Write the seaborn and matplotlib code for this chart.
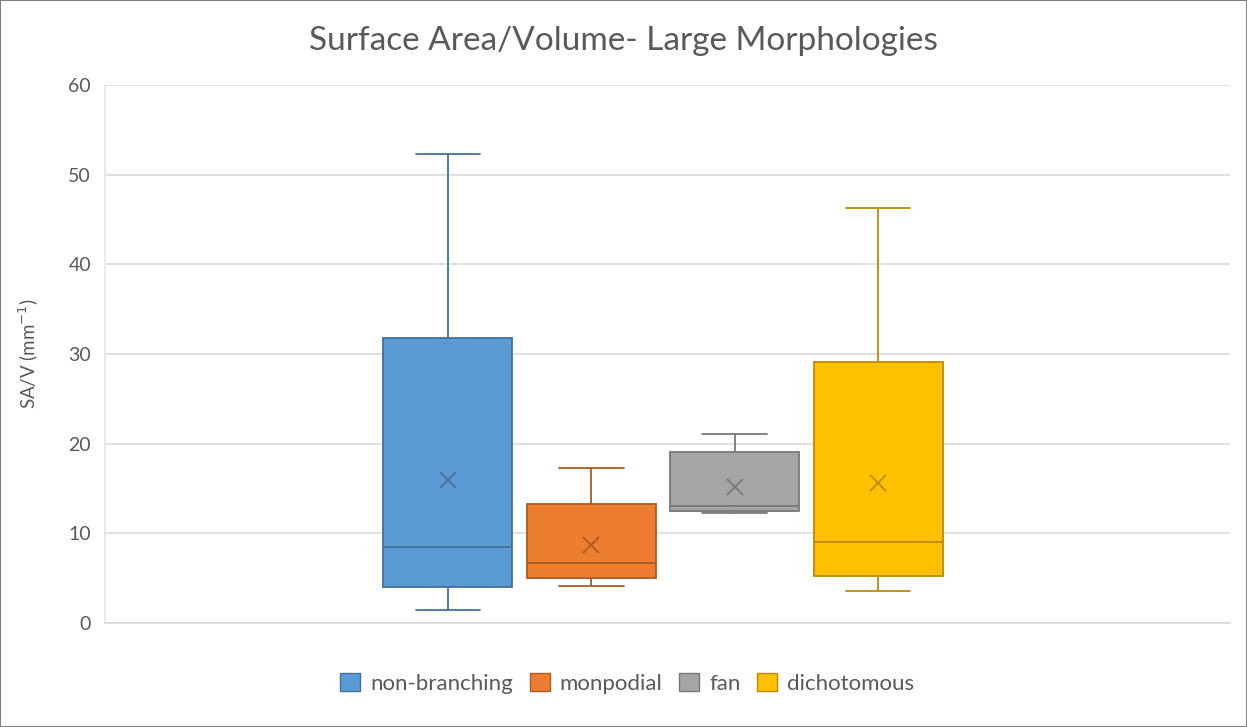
import numpy as np
import pandas as pd
import matplotlib.pyplot as plt
from matplotlib.patches import Patch, Rectangle
import seaborn as sns

# five-number summaries (min, q1, median, q3, max) + mean
series = ["non-branching", "monpodial", "fan", "dichotomous"]
mins = [1.5, 4.1, 12.3, 3.6]
q1s = [4.0, 5.0, 12.5, 5.2]
medians = [8.5, 6.7, 13.0, 9.0]
q3s = [31.8, 13.3, 19.1, 29.1]
maxs = [52.3, 17.3, 21.1, 46.3]
means = [16.0, 8.7, 15.2, 15.6]

fills = ["#5B9BD5", "#ED7D31", "#A5A5A5", "#FFC000"]
edges = ["#41719C", "#AE5A21", "#787878", "#BC8C00"]

# five points per group give exactly these quartiles with linear percentiles
rows = []
for name, a, b, c, d, e in zip(series, mins, q1s, medians, q3s, maxs):
    for v in (a, b, c, d, e):
        rows.append({"group": "all", "series": name, "value": v})
df = pd.DataFrame(rows)
mean_df = pd.DataFrame({"group": "all", "series": series, "mean": means})

sns.set_style("white")
plt.rcParams["font.family"] = ["Lato", "DejaVu Sans"]

fig = plt.figure(figsize=(12.47, 7.27), dpi=100)
ax = fig.add_axes([0.0842, 0.1431, 0.9022, 0.74])

width = 0.51
pal = dict(zip(series, fills))
for i, name in enumerate(series):
    sns.boxplot(data=df[df["series"] == name], x="group", y="value",
                hue="series", hue_order=series, palette=pal, saturation=1,
                dodge=True, width=width, gap=0.1, whis=(0, 100),
                linecolor=edges[i], linewidth=1.3, legend=False, ax=ax, zorder=3)

n = len(series)
sns.pointplot(data=mean_df, x="group", y="mean", hue="series", hue_order=series,
              palette=dict(zip(series, edges)), dodge=width * (n - 1) / n,
              markers="x", linestyles="none", errorbar=None, legend=False,
              markersize=12, markeredgewidth=1.3, ax=ax, zorder=4)

ax.set_xlim(-0.496, 0.504)
ax.set_ylim(0, 60)
ax.set_yticks(range(0, 61, 10))
ax.set_xticks([])
ax.set_xlabel("")
ax.set_ylabel("SA/V (mm$^{-1}$)", fontsize=13.5, color="#595959", labelpad=20)
ax.tick_params(axis="y", labelsize=14, labelcolor="#595959", length=0, pad=10)
ax.grid(axis="y", color="#D9D9D9", linewidth=1.1)
ax.set_axisbelow(True)
for side in ["top", "right"]:
    ax.spines[side].set_visible(False)
ax.spines["left"].set_color("#E3E3E3")
ax.spines["bottom"].set_color("#D9D9D9")
ax.spines["left"].set_linewidth(1.1)
ax.spines["bottom"].set_linewidth(1.1)

fig.text(0.5, 0.943, "Surface Area/Volume- Large Morphologies", fontsize=24,
         color="#595959", ha="center", va="center")

handles = [Patch(facecolor=f, edgecolor=e, linewidth=1) for f, e in zip(fills, edges)]
fig.legend(handles, series, loc="center", bbox_to_anchor=(0.503, 0.06), ncol=4,
           frameon=False, fontsize=16, handlelength=0.9, handleheight=0.9,
           handletextpad=0.45, columnspacing=0.75, labelcolor="#595959")

fig.patches.append(Rectangle((0, 0), 1, 1, transform=fig.transFigure, fill=False,
                             edgecolor="#7F7F7F", linewidth=1.5))

fig.savefig("out.png", dpi=100)
